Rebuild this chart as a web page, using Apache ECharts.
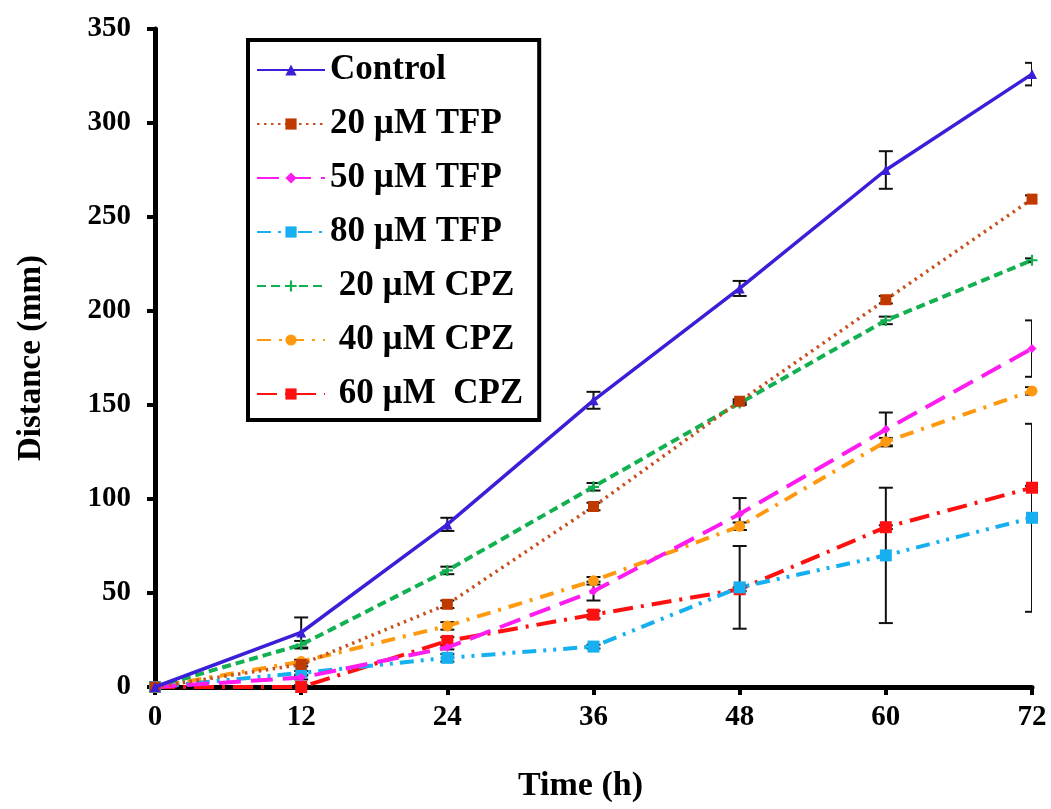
<!DOCTYPE html>
<html>
<head>
<meta charset="utf-8">
<script src="https://cdn.jsdelivr.net/npm/echarts@6/dist/echarts.min.js"></script>
<style>
html,body{margin:0;padding:0;background:#fff;}
#c{width:1051px;height:809px;}
</style>
</head>
<body>
<div id="c"></div>
<script>
// ---- data ----
var hours = [0, 12, 24, 36, 48, 60, 72];
var yTicks = [0, 50, 100, 150, 200, 250, 300, 350];
var seriesNames = ['Control', '20 µM TFP', '50 µM TFP', '80 µM TFP', ' 20 µM CPZ', ' 40 µM CPZ', ' 60 µM  CPZ'];

var control     = [0, 29, 86.5, 152.5, 212, 275, 326];
var controlErr  = [0, 8, 3.5, 4.5, 4, 10, 6];
var tfp20       = [0, 12, 44, 96, 152, 206, 259.5];
var tfp20Err    = [0, 1, 2, 2, 1, 2, 2];
var tfp50       = [0, 5, 21, 51, 92, 137, 180];
var tfp50Err    = [0, 1, 1, 5, 8.5, 9, 15];
var tfp80       = [0, 7.5, 15.5, 21.5, 53, 70, 90];
var tfp80Err    = [0, 1, 2, 1, 22, 36, 50];
var cpz20       = [0, 22.5, 62, 106.5, 151, 195, 227];
var cpz20Err    = [0, 2, 2, 2, 1, 2, 1];
var cpz40       = [0, 13.5, 32.5, 56.5, 85.5, 130.5, 157.5];
var cpz40Err    = [0, 1, 2, 2, 2, 2, 2];
var cpz60       = [0, 0, 24.5, 38.5, 52, 85, 106];
var cpz60Err    = [0, 1, 2, 2, 1, 1, 1];

var seriesValues = [control, tfp20, tfp50, tfp80, cpz20, cpz40, cpz60];
var seriesErrors = [controlErr, tfp20Err, tfp50Err, tfp80Err, cpz20Err, cpz40Err, cpz60Err];

// ---- styles ----
var FONT = '"Liberation Serif", "Times New Roman", serif';
var styles = [
  {color: '#3A1FD9', type: 'solid', width: 3.5, symbol: 'triangle', size: 10},
  {color: '#C8501E', type: [2.5, 4.5], width: 3.5, symbol: 'rect', size: 11, markerColor: '#C03A00'},
  {color: '#FF1CF0', type: [22, 10], width: 4, symbol: 'diamond', size: 9},
  {color: '#16B0F0', type: [14, 7, 3, 7, 3, 7], width: 4, symbol: 'rect', size: 12},
  {color: '#12B050', type: [9, 5], width: 4, symbol: 'path://M4,0 L6,0 L6,4 L10,4 L10,6 L6,6 L6,10 L4,10 L4,6 L0,6 L0,4 L4,4 Z', size: 11},
  {color: '#FF9A10', type: [14, 8, 3, 8], width: 4, symbol: 'circle', size: 11},
  {color: '#FF1010', type: [20, 8, 3, 8], width: 4, symbol: 'rect', size: 12}
];

var series = [];
// error bars
seriesValues.forEach(function (vals, si) {
  var errData = hours.map(function (h, i) { return [h, vals[i], seriesErrors[si][i]]; });
  series.push({
    type: 'custom',
    name: 'err' + si,
    clip: true,
    z: 1,
    silent: true,
    data: errData,
    renderItem: function (params, api) {
      var x = api.value(0), y = api.value(1), e = api.value(2);
      if (!e) return null;
      var top = api.coord([x, y + e]);
      var bot = api.coord([x, y - e]);
      var hw = 7;
      var st = {stroke: '#111', lineWidth: 2};
      return {
        type: 'group',
        children: [
          {type: 'line', shape: {x1: top[0], y1: top[1], x2: bot[0], y2: bot[1]}, style: st},
          {type: 'line', shape: {x1: top[0] - hw, y1: top[1], x2: top[0] + hw, y2: top[1]}, style: st},
          {type: 'line', shape: {x1: bot[0] - hw, y1: bot[1], x2: bot[0] + hw, y2: bot[1]}, style: st}
        ]
      };
    }
  });
});
seriesValues.forEach(function (vals, si) {
  var s = styles[si];
  series.push({
    type: 'line',
    name: seriesNames[si],
    data: hours.map(function (h, i) { return [h, vals[i]]; }),
    symbol: s.symbol,
    symbolSize: s.size,
    showAllSymbol: true,
    z: 3 + (6 - si),
    lineStyle: {color: s.color, type: s.type, width: s.width},
    itemStyle: {color: s.markerColor || s.color, borderWidth: 0},
    emphasis: {disabled: true},
    animation: false
  });
});

var chart = echarts.init(document.getElementById('c'), null, {renderer: 'canvas'});
chart.setOption({
  animation: false,
  backgroundColor: '#fff',
  grid: {left: 155, right: 19, top: 29, bottom: 122, containLabel: false},
  legend: {
    data: seriesNames,
    orient: 'vertical',
    left: 248,
    top: 40,
    width: 292,
    itemWidth: 68,
    itemHeight: 14,
    itemGap: 14,
    padding: [10, 16, 6, 8],
    borderColor: '#000',
    borderWidth: 4,
    backgroundColor: '#fff',
    textStyle: {fontFamily: FONT, fontWeight: 'bold', fontSize: 35, color: '#000', lineHeight: 40},
    selectedMode: false
  },
  xAxis: {
    type: 'value',
    min: 0, max: 72, interval: 12,
    name: 'Time (h)',
    nameLocation: 'middle',
    nameGap: 82,
    nameTextStyle: {fontFamily: FONT, fontWeight: 'bold', fontSize: 34, color: '#000', padding: [0, 26, 0, 0]},
    axisLine: {lineStyle: {color: '#000', width: 5}},
    axisTick: {show: true, inside: false, length: 8, lineStyle: {width: 4, color: '#000'}},
    axisLabel: {fontFamily: FONT, fontWeight: 'bold', fontSize: 29, color: '#000', margin: 16},
    splitLine: {show: false}
  },
  yAxis: {
    type: 'value',
    min: yTicks[0], max: yTicks[yTicks.length - 1], interval: 50,
    name: 'Distance (mm)',
    nameLocation: 'middle',
    nameGap: 107,
    nameTextStyle: {fontFamily: FONT, fontWeight: 'bold', fontSize: 33, color: '#000'},
    axisLine: {show: true, lineStyle: {color: '#000', width: 5}},
    axisTick: {show: true, inside: false, length: 8, lineStyle: {width: 4, color: '#000'}},
    axisLabel: {fontFamily: FONT, fontWeight: 'bold', fontSize: 29, color: '#000', margin: 24},
    splitLine: {show: false}
  },
  series: series
});
</script>
</body>
</html>
